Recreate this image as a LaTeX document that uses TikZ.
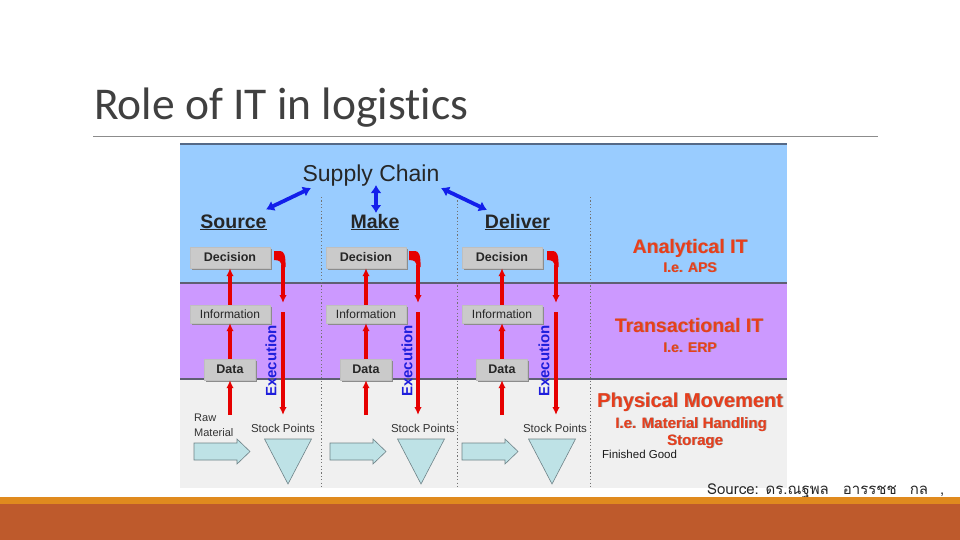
\documentclass[tikz,border=0pt]{standalone}
\usepackage{fontspec}
\setmainfont{Liberation Sans}
\newfontfamily\titlefont[Ligatures={NoCommon}]{Carlito}
\newfontfamily\thaifont[Script=Thai]{Loma}
\usetikzlibrary{arrows.meta,shadows}
\definecolor{bandblue}{RGB}{153,204,255}
\definecolor{bandpurple}{RGB}{204,153,255}
\definecolor{bandgray}{RGB}{240,240,240}
\definecolor{bandline}{RGB}{95,95,115}
\definecolor{topline}{RGB}{85,105,135}
\definecolor{boxgray}{RGB}{202,202,202}
\definecolor{redtxt}{RGB}{232,62,28}
\definecolor{arrred}{RGB}{230,0,0}
\definecolor{arrblue}{RGB}{18,30,235}
\definecolor{exeblue}{RGB}{30,30,220}
\definecolor{cyanfill}{RGB}{190,226,230}
\definecolor{cyanline}{RGB}{110,130,135}
\definecolor{barorange}{RGB}{224,138,30}
\definecolor{barrust}{RGB}{190,90,44}
\definecolor{titlegray}{RGB}{64,64,64}
\newcommand\shd[1]{\leavevmode\rlap{\kern0.9pt\raisebox{-0.9pt}{\textcolor{black!40}{#1}}}#1}
\tikzset{
  lbox/.style={fill=boxgray, draw=black!25, line width=0.4pt, inner sep=0pt,
    drop shadow={shadow xshift=1.5pt, shadow yshift=-1.5pt, fill=black!45, opacity=1}},
  decbox/.style={lbox, minimum width=80pt, minimum height=21pt, font=\fontsize{12.5}{12.5}\selectfont\bfseries, text=black!85},
  infbox/.style={lbox, minimum width=80pt, minimum height=18pt, font=\fontsize{12}{12}\selectfont, text=black!85},
  datbox/.style={lbox, minimum width=51pt, minimum height=21pt, font=\fontsize{12.5}{12.5}\selectfont\bfseries, text=black!85},
  redarr/.style={arrred, line width=3.1pt, -{Latex[length=8pt,width=7.5pt]}},
  bluearr/.style={arrblue, line width=3.8pt, {Latex[length=8pt,width=11pt]}-{Latex[length=8pt,width=11pt]}},
  divider/.style={black!55, line width=0.7pt, dash pattern=on 1.2pt off 2.2pt},
  stage/.style={anchor=base, inner sep=0pt, font=\fontsize{19.5}{19.5}\selectfont\bfseries, text=black!85},
  redbig/.style={anchor=base, inner sep=0pt, font=\fontsize{19.5}{19.5}\selectfont\bfseries, text=redtxt},
  redsmall/.style={anchor=base, inner sep=0pt, font=\fontsize{15}{15}\selectfont\bfseries, text=redtxt},
  smalltxt/.style={inner sep=0pt, font=\fontsize{11.5}{11.5}\selectfont, text=black!80},
  exetxt/.style={rotate=90, inner sep=0pt, font=\fontsize{15}{15}\selectfont\bfseries, text=exeblue},
  blockarrow/.style={fill=cyanfill, draw=cyanline, line width=0.6pt},
}
\begin{document}
\begin{tikzpicture}[x=1pt,y=-1pt]
\useasboundingbox (0,0) rectangle (960,540);
\fill[white] (0,0) rectangle (960,540);

% title
\node[anchor=base west, inner sep=0pt, font=\titlefont\fontsize{45.5}{45.5}\selectfont, text=titlegray] (title) at (94,120) {Role of IT in logistics};
\draw[black!45, line width=0.8pt] (93,136.5) -- (878,136.5);

% bands
\fill[bandblue] (180,143) rectangle (787,283);
\fill[bandpurple] (180,283) rectangle (787,379);
\fill[bandgray] (180,379) rectangle (787,488);
\draw[topline, line width=2pt] (180,144) -- (787,144);
\draw[bandline, line width=1.6pt] (180,283) -- (787,283);
\draw[bandline, line width=1.6pt] (180,379) -- (787,379);
\foreach \x in {321,457,590} \draw[divider] (\x,197) -- (\x,488);

% supply chain
\node[anchor=base, inner sep=0pt, font=\fontsize{23}{23}\selectfont, text=black!85] (sc) at (371,182) {Supply Chain};
\node[stage] (src) at (233.5,228) {\underline{Source}};
\node[stage] (mak) at (375,228) {\underline{Make}};
\node[stage] (del) at (517.5,228) {\underline{Deliver}};
\coordinate (b1s) at (311,188); \coordinate (b1e) at (266,209.5);
\coordinate (b2s) at (376,185); \coordinate (b2e) at (376,213);
\coordinate (b3s) at (441,188); \coordinate (b3e) at (487,210);
\draw[bluearr] (b1s) -- (b1e);
\draw[bluearr] (b2s) -- (b2e);
\draw[bluearr] (b3s) -- (b3e);

% columns
\foreach \i/\bx/\ex/\tx/\spx in {1/230/283/271/283, 2/366/418/407/423, 3/502/556/544/555}{
  \node[decbox] (dec\i) at (\bx,257.5) {Decision};
  \node[infbox] (inf\i) at (\bx,314) {Information};
  \node[datbox] (dat\i) at (\bx,369.5) {Data};
  \coordinate (raw\i) at (\bx,415);
  \draw[redarr] (raw\i) -- (dat\i.south);
  \draw[redarr] (dat\i.north) -- (inf\i.south);
  \draw[redarr] (inf\i.north) -- (dec\i.south);
  % execution hook and arrows
  \fill[arrred] (\ex-9,251) -- (\ex-3,251) .. controls (\ex+1,251) and (\ex+2.8,255) .. (\ex+2.5,267)
     -- (\ex-1.5,267) .. controls (\ex-1.5,262) and (\ex-3,260) .. (\ex-9,260) -- cycle;
  \coordinate (ea\i) at (\ex,265);
  \coordinate (eb\i) at (\ex,303);
  \coordinate (ec\i) at (\ex,312);
  \coordinate (ed\i) at (\ex,415);
  \draw[redarr] (ea\i) -- (eb\i);
  \draw[redarr] (ec\i) -- (ed\i);
  \node[exetxt] (exe\i) at (\tx,361) {Execution};
  \node[smalltxt, anchor=base] (stk\i) at (\spx,432) {Stock Points};
}

% flow arrows and stock triangles
\foreach \a/\t in {194/288, 330/421, 462/552}{
  \path[blockarrow] (\a,443) -- (\a+43,443) -- (\a+43,439) -- (\a+56,451.5) -- (\a+43,464) -- (\a+43,460) -- (\a,460) -- cycle;
  \path[blockarrow] (\t-23.5,439) -- (\t+23.5,439) -- (\t,484) -- cycle;
}
\node[smalltxt, anchor=north west, align=left, font=\fontsize{11}{15}\selectfont] (raw) at (194,413.5) {Raw\\Material};

% right column labels
\node[redbig] (ait) at (690,253) {\shd{Analytical IT}};
\node[redsmall, font=\fontsize{14}{14}\selectfont\bfseries] (aps) at (690,272) {\shd{I.e. APS}};
\node[redbig] (tit) at (689,332) {\shd{Transactional IT}};
\node[redsmall, font=\fontsize{14}{14}\selectfont\bfseries] (erp) at (690,352) {\shd{I.e. ERP}};
\node[redbig, font=\fontsize{20}{20}\selectfont\bfseries] (pm) at (690,407) {\shd{Physical Movement}};
\node[redsmall] (mh) at (691,428) {\shd{I.e. Material Handling}};
\node[redsmall] (sto) at (695,445) {\shd{Storage}};
\node[smalltxt, anchor=base west, text=black!90] (fg) at (602,458) {Finished Good};

% footer
\node[anchor=base west, inner sep=0pt, font=\thaifont\fontsize{15}{15}\selectfont, text=black!85] (srcnote) at (707,494) {Source: ดร.ณฐพล\hspace{14pt}อารรชช\hspace{13pt}กล\hspace{12pt},};
\fill[barorange] (0,497) rectangle (960,504);
\fill[barrust] (0,504) rectangle (960,540);
\end{tikzpicture}
\end{document}
